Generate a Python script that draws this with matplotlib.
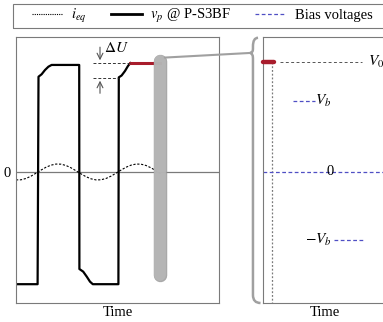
import matplotlib
matplotlib.use('Agg')
import matplotlib.pyplot as plt
import matplotlib.patheffects as pe
from matplotlib.lines import Line2D
from matplotlib.patches import ConnectionPatch, PathPatch, Rectangle
from matplotlib.path import Path

plt.rcParams['font.family'] = ['Liberation Serif', 'DejaVu Serif']
plt.rcParams['mathtext.fontset'] = 'stix'
plt.rcParams['font.size'] = 10.5

# v_p waveform (time in half-periods, voltage normalised to V0)
vp_t = [0.0, 0.54, 0.5625, 0.64, 0.725, 0.81, 0.89, 1.58, 1.585, 1.68, 1.77, 1.85, 1.92,
        2.56, 2.57, 2.64, 2.725, 2.8, 2.86]
vp_v = [-1.02, -1.02, 0.866, 0.888, 0.927, 0.957, 0.973, 0.973, -0.882, -0.906, -0.952,
        -0.997, -1.02, -1.02, 0.86, 0.877, 0.918, 0.964, 0.99]
# highlighted (red) part of the last plateau
red_t = [2.86, 3.6]
red_v = [0.99, 0.99]

# i_eq (dotted)
ieq_t = [0.0, 0.125, 0.25, 0.375, 0.5, 0.625, 0.75, 0.875, 1.0, 1.125, 1.25, 1.375, 1.5,
         1.625, 1.75, 1.875, 2.0, 2.125, 2.25, 2.375, 2.5, 2.625, 2.75, 2.875, 3.0,
         3.125, 3.25, 3.375, 3.5, 3.625]
ieq_v = [-0.072, -0.071, -0.059, -0.038, -0.011, 0.017, 0.043, 0.062, 0.072, 0.071, 0.059,
         0.038, 0.011, -0.017, -0.043, -0.062, -0.072, -0.071, -0.059, -0.038, -0.011,
         0.017, 0.043, 0.062, 0.072, 0.071, 0.059, 0.038, 0.011, -0.017]

shoulder = 0.855
V0 = 1.0
Vb = 0.645
Vb_neg = -0.62
t_zoom = 3.6

RED = '#a81c2c'
BLUE = '#4f4fc4'
GREY = '#7a7a7a'

fig = plt.figure(figsize=(3.83, 3.22), dpi=100)
ax1 = fig.add_axes([16 / 383, 19 / 322, 203 / 383, 266 / 322])
ax2 = fig.add_axes([263 / 383, 19 / 322, 124 / 383, 266 / 322])

for ax in (ax1, ax2):
    for s in ax.spines.values():
        s.set_color(GREY)
        s.set_linewidth(0.8)
    ax.set_ylim(-1.191, 1.227)
    ax.set_xticks([])
    ax.set_xlabel('Time', labelpad=2)

# ---- left panel
ax1.set_xlim(0, 5.075)
ax1.set_yticks([0])
ax1.set_yticklabels(['0'])
ax1.tick_params(axis='y', length=0, pad=4)
ax1.axhline(0, color=GREY, lw=0.9)
ax1.plot(ieq_t, ieq_v, color='black', lw=0.8, ls=(0, (2, 1.5)))
ax1.plot(vp_t, vp_v, color='black', lw=1.6, solid_joinstyle='round')
ax1.plot(red_t, red_v, color=RED, lw=2.2)

# delta U annotation
ax1.plot([1.925, 2.86], [0.99, 0.99], color='#333333', lw=0.7, ls=(0, (3, 2)))
ax1.plot([1.925, 2.55], [shoulder, shoulder], color='#333333', lw=0.7, ls=(0, (3, 2)))
ax1.annotate('', xy=(2.1, 0.99), xytext=(2.1, 1.16),
             arrowprops=dict(arrowstyle='->', color='#555555', lw=0.8))
ax1.annotate('', xy=(2.1, shoulder), xytext=(2.1, 0.69),
             arrowprops=dict(arrowstyle='->', color='#555555', lw=0.8))
ax1.text(2.2, 1.13, r'$\Delta U$', ha='left', va='center', fontsize=11)

# grey capsule marking the zoomed instant
ax1.plot([t_zoom, t_zoom], [1.005, -0.94], color='#b8b8b8', lw=8.5,
         solid_capstyle='round', alpha=0.85, zorder=5,
         path_effects=[pe.Stroke(linewidth=9.7, foreground='#9a9a9a', alpha=0.85),
                       pe.Normal()])

# ---- right panel
ax2.set_xlim(0, 1)
ax2.set_yticks([])
ax2.plot([0.0, 0.085], [V0, V0], color=RED, lw=3.2, solid_capstyle='round', zorder=4,
         clip_on=False)
ax2.plot([0.073, 0.073], [V0, -1.191], color=GREY, lw=0.9, ls=(0, (1.5, 1.5)))
ax2.plot([0.137, 0.8], [V0, V0], color='#555555', lw=0.7, ls=(0, (3, 2.5)))
ax2.text(0.847, V0, r'$V_0$', ha='left', va='center', fontsize=11)
ax2.plot([0.242, 0.419], [Vb, Vb], color=BLUE, lw=0.9, ls=(0, (3, 2)))
ax2.text(0.423, Vb, r'$V_b$', ha='left', va='center', fontsize=11)
ax2.axhline(0, color=BLUE, lw=0.9, ls=(0, (3, 2)))
ax2.text(0.54, 0, '0', ha='center', va='center', fontsize=10.5)
ax2.plot([0.573, 0.806], [Vb_neg, Vb_neg], color=BLUE, lw=0.9, ls=(0, (3, 2)))
ax2.text(0.556, Vb_neg, r'$-V_b$', ha='right', va='center', fontsize=11)

# bracket to the left of the zoomed panel
bx, tipx, tipy = -0.081, -0.105, 0.94
verts = [(-0.04, 0.997), (bx, 0.997), (bx, 0.965),
         (bx, 0.955), (bx, tipy), (tipx, tipy),
         (bx, tipy), (bx, 0.92),
         (bx, 0.03), (bx, 0.0), (-0.02, 0.0)]
codes = [Path.MOVETO, Path.CURVE3, Path.CURVE3,
         Path.LINETO, Path.CURVE3, Path.CURVE3,
         Path.CURVE3, Path.CURVE3,
         Path.LINETO, Path.CURVE3, Path.CURVE3]
ax2.add_patch(PathPatch(Path(verts, codes), transform=ax2.transAxes, fill=False,
                        edgecolor='#a0a0a0', lw=1.8, clip_on=False))

con = ConnectionPatch(xyA=(t_zoom + 0.12, 1.04), coordsA=ax1.transData,
                      xyB=(tipx, tipy), coordsB=ax2.transAxes,
                      color='#a0a0a0', lw=1.5)
fig.add_artist(con)

# legend (frame drawn separately, it runs off the right edge in the original)
fig.add_artist(Rectangle((13 / 383, 294 / 322), 380 / 383, 24 / 322,
                         transform=fig.transFigure, fill=False, edgecolor=GREY, lw=0.8))
handles = [Line2D([], [], color='black', lw=0.8, ls=(0, (1, 1))),
           Line2D([], [], color='black', lw=2.0),
           Line2D([], [], color=BLUE, lw=0.9, ls=(0, (3, 2)))]
labels = [r'$i_{eq}$', r'$v_p$ @ P-S3BF', 'Bias voltages']
fig.legend(handles, labels, loc='center left', bbox_to_anchor=(32 / 383, 1 - 16 / 322),
           ncol=3, frameon=False, borderaxespad=0, borderpad=0,
           handlelength=2.1, handletextpad=0.6, columnspacing=1.65, fontsize=10.5)

fig.savefig('out.png', dpi=100)
